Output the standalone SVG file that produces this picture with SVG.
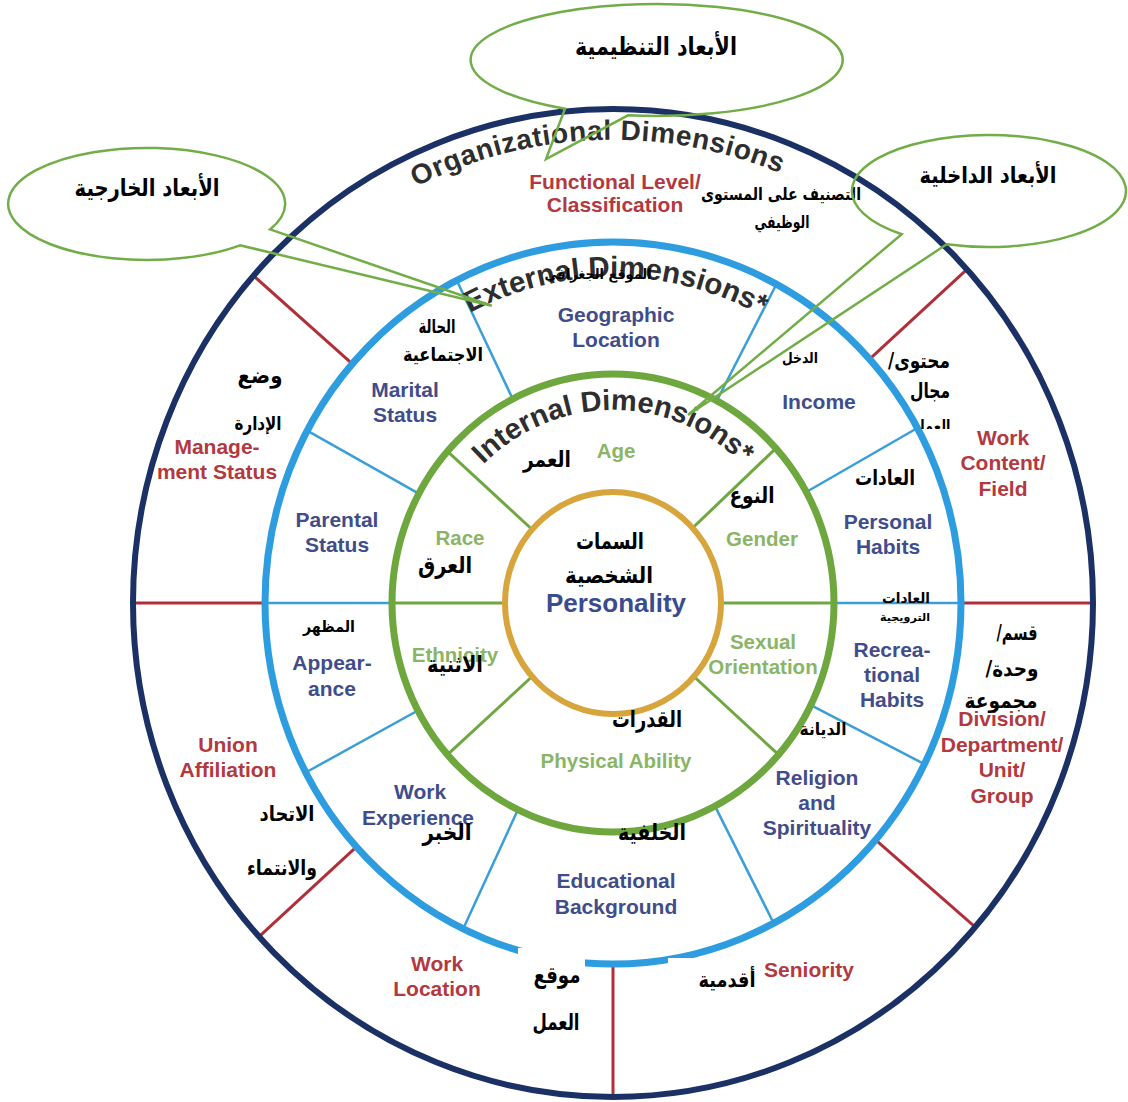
<svg xmlns="http://www.w3.org/2000/svg" width="1128" height="1102" viewBox="0 0 1128 1102">
<style>
.org{font-family:"Liberation Sans",Arial,sans-serif;font-weight:bold;font-size:21px;fill:#B2393F;text-anchor:middle}
.ext{font-family:"Liberation Sans",Arial,sans-serif;font-weight:bold;font-size:21px;fill:#414D8A;text-anchor:middle}
.int{font-family:"Liberation Sans",Arial,sans-serif;font-weight:bold;font-size:20.5px;fill:#8BB566;text-anchor:middle}
.pers{font-family:"Liberation Sans",Arial,sans-serif;font-weight:bold;font-size:26px;fill:#3A4C8E;text-anchor:middle}
.arc{font-family:"Liberation Sans",Arial,sans-serif;font-weight:bold;fill:#2E2E2E;text-anchor:middle}
.ar{font-family:"DejaVu Sans","Noto Sans",sans-serif;font-weight:bold;fill:#000;text-anchor:middle}
.red{stroke:#B0303A;stroke-width:3;fill:none}
.blu{stroke:#3A9FD9;stroke-width:2.5;fill:none}
.grn{stroke:#6FA843;stroke-width:3;fill:none}
.ring{fill:none}
.callout{fill:none;stroke:#72AD48;stroke-width:2.5;stroke-linejoin:miter}
</style>
<defs>
<path id="orgArc" d="M 213.8,393.7 A 446 459 0 0 1 997,365.6"/>
<path id="extArc" d="M 341.1,440 A 314 326 0 0 1 887.6,445"/>
<path id="intArc" d="M 451.9,506.5 A 186 193 0 0 1 774.1,506.5"/>
<clipPath id="clipWork"><rect x="880" y="400" width="90" height="29"/></clipPath>
</defs>
<rect width="1128" height="1102" fill="#fff"/>

<g id="connectors">
<line class="red" x1="869.6" y1="359.1" x2="966.9" y2="269.3"/>
<line class="red" x1="352.3" y1="363.8" x2="253.5" y2="275.7"/>
<line class="red" x1="356.4" y1="846.9" x2="259.1" y2="936.7"/>
<line class="red" x1="875.6" y1="839.9" x2="975.3" y2="927.1"/>
<line class="red" x1="613" y1="964" x2="613" y2="1097"/>
<line class="red" x1="961" y1="603" x2="1093" y2="603"/>
<line class="red" x1="265" y1="603" x2="133" y2="603"/>
<line class="blu" x1="806.3" y1="492" x2="917.4" y2="428"/>
<line class="blu" x1="716.8" y1="400.8" x2="776.4" y2="284.3"/>
<line class="blu" x1="512.7" y1="399" x2="458" y2="283"/>
<line class="blu" x1="418.8" y1="493.7" x2="307.2" y2="430.7"/>
<line class="blu" x1="392" y1="603" x2="265" y2="603"/>
<line class="blu" x1="417.9" y1="710.5" x2="305.7" y2="772.5"/>
<line class="blu" x1="517.9" y1="809.7" x2="463.2" y2="928.8"/>
<line class="blu" x1="715" y1="806.1" x2="773.7" y2="923.2"/>
<line class="blu" x1="810.8" y1="705.2" x2="924.4" y2="764.1"/>
<line class="blu" x1="834" y1="603" x2="961" y2="603"/>
<line class="grn" x1="692.6" y1="528" x2="775.9" y2="448.3"/>
<line class="grn" x1="532.1" y1="529.5" x2="447.5" y2="451.3"/>
<line class="grn" x1="532.1" y1="676.5" x2="447.5" y2="754.7"/>
<line class="grn" x1="693.9" y1="676.5" x2="778.5" y2="754.7"/>
<line class="grn" x1="721" y1="603" x2="834" y2="603"/>
<line class="grn" x1="505" y1="603" x2="392" y2="603"/>
</g>

<g id="organizational-dimensions">
<ellipse class="ring" cx="613" cy="603" rx="480" ry="494" stroke="#1B3166" stroke-width="6"/>
<text class="arc" font-size="28" letter-spacing="0.6"><textPath href="#orgArc" startOffset="50%">Organizational Dimensions</textPath></text>
</g>
<g id="external-dimensions">
<ellipse class="ring" cx="613" cy="603" rx="348" ry="361" stroke="#2E9DE0" stroke-width="7"/>
<text class="arc" font-size="29.5"><textPath href="#extArc" startOffset="50%">External Dimensions*</textPath></text>
</g>
<g id="internal-dimensions">
<ellipse class="ring" cx="613" cy="603" rx="221" ry="229" stroke="#6DA73D" stroke-width="7"/>
<text class="arc" font-size="29"><textPath href="#intArc" startOffset="50%">Internal Dimensions*</textPath></text>
</g>
<g id="personality">
<ellipse class="ring" cx="613" cy="603" rx="108" ry="111" stroke="#D8A43C" stroke-width="6"/>
<text class="pers" x="616" y="612">Personality</text>
</g>

<g id="functional-level"><text class="org" x="615" y="189">Functional Level/</text><text class="org" x="615" y="212">Classification</text></g>
<g id="management-status"><text class="org" x="217" y="454">Manage-</text><text class="org" x="217" y="479">ment Status</text></g>
<g id="union-affiliation"><text class="org" x="228" y="752">Union</text><text class="org" x="228" y="777">Affiliation</text></g>
<g id="work-location"><text class="org" x="437" y="971">Work</text><text class="org" x="437" y="996">Location</text></g>
<g id="seniority"><text class="org" x="809" y="977">Seniority</text></g>
<g id="division"><text class="org" x="1002" y="726">Division/</text><text class="org" x="1002" y="752">Department/</text><text class="org" x="1002" y="777">Unit/</text><text class="org" x="1002" y="803">Group</text></g>
<g id="work-content"><text class="org" x="1003" y="445">Work</text><text class="org" x="1003" y="470">Content/</text><text class="org" x="1003" y="496">Field</text></g>

<g id="geographic-location"><text class="ext" x="616" y="322">Geographic</text><text class="ext" x="616" y="347">Location</text></g>
<g id="marital-status"><text class="ext" x="405" y="397">Marital</text><text class="ext" x="405" y="422">Status</text></g>
<g id="income"><text class="ext" x="819" y="409">Income</text></g>
<g id="parental-status"><text class="ext" x="337" y="527">Parental</text><text class="ext" x="337" y="552">Status</text></g>
<g id="personal-habits"><text class="ext" x="888" y="529">Personal</text><text class="ext" x="888" y="554">Habits</text></g>
<g id="appearance"><text class="ext" x="332" y="670">Appear-</text><text class="ext" x="332" y="696">ance</text></g>
<g id="recreational-habits"><text class="ext" x="892" y="657">Recrea-</text><text class="ext" x="892" y="682">tional</text><text class="ext" x="892" y="707">Habits</text></g>
<g id="work-experience"><text class="ext" x="420" y="799">Work</text><text class="ext" x="418" y="825">Experience</text></g>
<g id="religion"><text class="ext" x="817" y="785">Religion</text><text class="ext" x="817" y="810">and</text><text class="ext" x="817" y="835">Spirituality</text></g>
<g id="educational-background"><text class="ext" x="616" y="888">Educational</text><text class="ext" x="616" y="914">Background</text></g>

<g id="age"><text class="int" x="616" y="458">Age</text></g>
<g id="race"><text class="int" x="460" y="545">Race</text></g>
<g id="gender"><text class="int" x="762" y="546">Gender</text></g>
<g id="ethnicity"><text class="int" x="455" y="662">Ethnicity</text></g>
<g id="sexual-orientation"><text class="int" x="763" y="649">Sexual</text><text class="int" x="763" y="674">Orientation</text></g>
<g id="physical-ability"><text class="int" x="616" y="768">Physical Ability</text></g>

<g id="label-boxes">
<rect x="518" y="948" width="67" height="112" fill="#fff"/>
<rect x="668" y="958" width="92" height="47" fill="#fff"/>
</g>

<g id="arabic-labels">
<text class="ar" x="781" y="200" font-size="17" textLength="160" lengthAdjust="spacingAndGlyphs">التصنيف على المستوى</text>
<text class="ar" x="782" y="228" font-size="17" textLength="55" lengthAdjust="spacingAndGlyphs">الوظيفي</text>
<text class="ar" x="598" y="279" font-size="14" textLength="107" lengthAdjust="spacingAndGlyphs">الموقع الجغرافي</text>
<text class="ar" x="437" y="333" font-size="19" textLength="37" lengthAdjust="spacingAndGlyphs">الحالة</text>
<text class="ar" x="443" y="361" font-size="19" textLength="80" lengthAdjust="spacingAndGlyphs">الاجتماعية</text>
<text class="ar" x="260" y="383" font-size="22" textLength="45" lengthAdjust="spacingAndGlyphs">وضع</text>
<text class="ar" x="258" y="430" font-size="19" textLength="47" lengthAdjust="spacingAndGlyphs">الإدارة</text>
<text class="ar" x="800" y="363" font-size="15" textLength="36" lengthAdjust="spacingAndGlyphs">الدخل</text>
<text class="ar" x="919" y="368" font-size="21" direction="rtl" textLength="62" lengthAdjust="spacingAndGlyphs">محتوى/</text>
<text class="ar" x="930" y="398" font-size="21" textLength="40" lengthAdjust="spacingAndGlyphs">مجال</text>
<text class="ar" x="932" y="432" font-size="17" textLength="37" lengthAdjust="spacingAndGlyphs" clip-path="url(#clipWork)">العمل</text>
<text class="ar" x="547" y="467" font-size="22" textLength="48" lengthAdjust="spacingAndGlyphs">العمر</text>
<text class="ar" x="752" y="503" font-size="22" textLength="45" lengthAdjust="spacingAndGlyphs">النوع</text>
<text class="ar" x="885" y="485" font-size="21" textLength="60" lengthAdjust="spacingAndGlyphs">العادات</text>
<text class="ar" x="610" y="549" font-size="23" textLength="68" lengthAdjust="spacingAndGlyphs">السمات</text>
<text class="ar" x="609" y="583" font-size="23" textLength="88" lengthAdjust="spacingAndGlyphs">الشخصية</text>
<text class="ar" x="445" y="573" font-size="23" textLength="54" lengthAdjust="spacingAndGlyphs">العرق</text>
<text class="ar" x="906" y="603" font-size="14" textLength="48" lengthAdjust="spacingAndGlyphs">العادات</text>
<text class="ar" x="905" y="621" font-size="11" textLength="50" lengthAdjust="spacingAndGlyphs">الترويجية</text>
<text class="ar" x="329" y="632" font-size="16" textLength="52" lengthAdjust="spacingAndGlyphs">المظهر</text>
<text class="ar" x="455" y="672" font-size="23" textLength="56" lengthAdjust="spacingAndGlyphs">الاثنية</text>
<text class="ar" x="1017" y="640" font-size="21" direction="rtl" textLength="41" lengthAdjust="spacingAndGlyphs">قسم/</text>
<text class="ar" x="1012" y="676" font-size="21" direction="rtl" textLength="53" lengthAdjust="spacingAndGlyphs">وحدة/</text>
<text class="ar" x="1001" y="708" font-size="21" textLength="73" lengthAdjust="spacingAndGlyphs">مجموعة</text>
<text class="ar" x="647" y="727" font-size="23" textLength="70" lengthAdjust="spacingAndGlyphs">القدرات</text>
<text class="ar" x="823" y="735" font-size="17" textLength="47" lengthAdjust="spacingAndGlyphs">الديانة</text>
<text class="ar" x="287" y="821" font-size="21" textLength="55" lengthAdjust="spacingAndGlyphs">الاتحاد</text>
<text class="ar" x="282" y="875" font-size="21" textLength="70" lengthAdjust="spacingAndGlyphs">والانتماء</text>
<text class="ar" x="447" y="840" font-size="23" textLength="49" lengthAdjust="spacingAndGlyphs">الخبر</text>
<text class="ar" x="652" y="840" font-size="23" textLength="68" lengthAdjust="spacingAndGlyphs">الخلفية</text>
<text class="ar" x="557" y="983" font-size="23" textLength="47" lengthAdjust="spacingAndGlyphs">موقع</text>
<text class="ar" x="556" y="1030" font-size="23" textLength="47" lengthAdjust="spacingAndGlyphs">العمل</text>
<text class="ar" x="727" y="987" font-size="21" textLength="57" lengthAdjust="spacingAndGlyphs">أقدمية</text>
</g>

<g id="callout-organizational">
<path class="callout" d="M 628,115.3 A 186 56 0 1 0 565,108.7 L 546,159 Z"/>
<text class="ar" x="656" y="55" font-size="25" textLength="162" lengthAdjust="spacingAndGlyphs">الأبعاد التنظيمية</text>
</g>
<g id="callout-external">
<path class="callout" d="M 270,229.4 A 138.5 56 0 1 0 240,245.3 L 491.7,305.7 Z"/>
<text class="ar" x="147" y="196" font-size="24" textLength="145" lengthAdjust="spacingAndGlyphs">الأبعاد الخارجية</text>
</g>
<g id="callout-internal">
<path class="callout" d="M 901.7,234.2 A 137 56 0 1 1 946.7,244.3 L 688,415 Z"/>
<text class="ar" x="988" y="183" font-size="23" textLength="137" lengthAdjust="spacingAndGlyphs">الأبعاد الداخلية</text>
</g>
</svg>
